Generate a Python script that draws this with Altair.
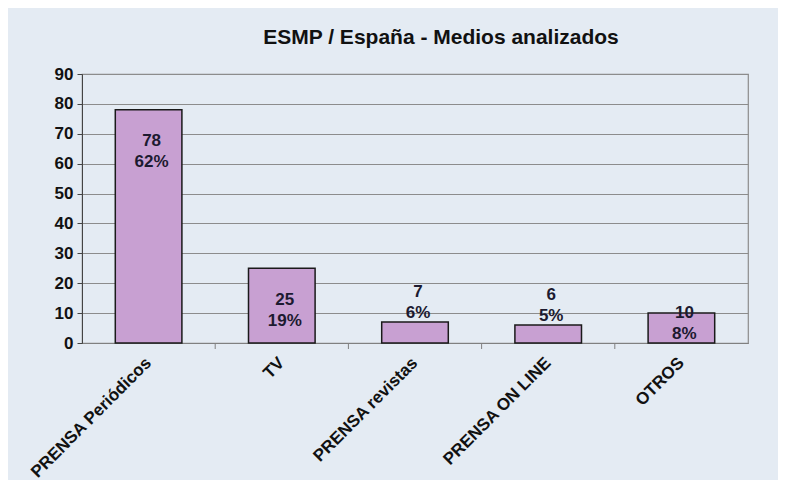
import altair as alt
import pandas as pd

categories = ["PRENSA Periódicos", "TV", "PRENSA revistas", "PRENSA ON LINE", "OTROS"]
values = [78, 25, 7, 6, 10]
percents = ["62%", "19%", "6%", "5%", "8%"]

df = pd.DataFrame({"cat": categories, "value": values, "pct": percents})

FONT = "Liberation Sans"
PLOT_W, PLOT_H = 666, 269

yaxis = alt.Axis(values=list(range(0, 100, 10)), labelFont=FONT,
                 labelFontSize=17, labelFontWeight="bold", labelOverlap=False,
                 labelColor="#111111", tickSize=5, tickColor="#444444",
                 domainColor="#444444", gridColor="#8c8c8c",
                 gridWidth=1, labelPadding=4)

xscale = alt.Scale(paddingInner=0.5, paddingOuter=0.25)

x = alt.X("cat:N", sort=categories, title=None, scale=xscale,
          axis=alt.Axis(labelAngle=-45, labelFont=FONT, labelFontSize=17,
                        labelFontWeight="bold", labelColor="#111111",
                        labelPadding=17, ticks=False, domainColor="#808080",
                        labelAlign="right", labelBaseline="middle"))

bars = alt.Chart(df).mark_bar(color="#C8A0D2", stroke="#1a1a1a", strokeWidth=1.5).encode(
    x=x,
    y=alt.Y("value:Q", title=None, scale=alt.Scale(domain=[0, 90]), axis=yaxis),
)

# small category-separator ticks below the x axis (Excel style):
# end of each bar + half the gap between bars
half_gap = PLOT_W / len(categories) * 0.25
sep_ticks = alt.Chart(df).transform_filter(
    alt.datum.cat != categories[-1]
).mark_rule(color="#808080", strokeWidth=1, xOffset=half_gap).encode(
    x=alt.X("cat:N", sort=categories, bandPosition=1),
    y=alt.value(PLOT_H),
    y2=alt.value(PLOT_H + 6),
)

labels = alt.Chart(df).transform_calculate(
    label="datum.value + '\\n' + datum.pct",
    ypos="datum.value >= 20 ? datum.value - 10.5 : (datum.value >= 10 ? datum.value : datum.value + 10.2)",
).mark_text(lineBreak="\n", font=FONT, fontSize=17, fontWeight="bold",
            color="#1c1a30", baseline="middle", dx=3, lineHeight=21).encode(
    x=alt.X("cat:N", sort=categories),
    y=alt.Y("ypos:Q", axis=yaxis, scale=alt.Scale(domain=[0, 90])),
    text="label:N",
)

chart = (bars + sep_ticks + labels).properties(
    width=PLOT_W, height=PLOT_H,
    title=alt.TitleParams("ESMP / España - Medios analizados", font=FONT,
                          fontSize=21, fontWeight="bold", color="#111111",
                          anchor="middle", dx=26, offset=17),
    background="#E4EBF3",
    padding={"left": 74, "top": 66, "right": 30, "bottom": 137},
    autosize=alt.AutoSizeParams(type="none"),
).configure_view(stroke="#8c8c8c", strokeWidth=1.2)

chart.save("out.html", embed_options={"renderer": "svg", "actions": False})
